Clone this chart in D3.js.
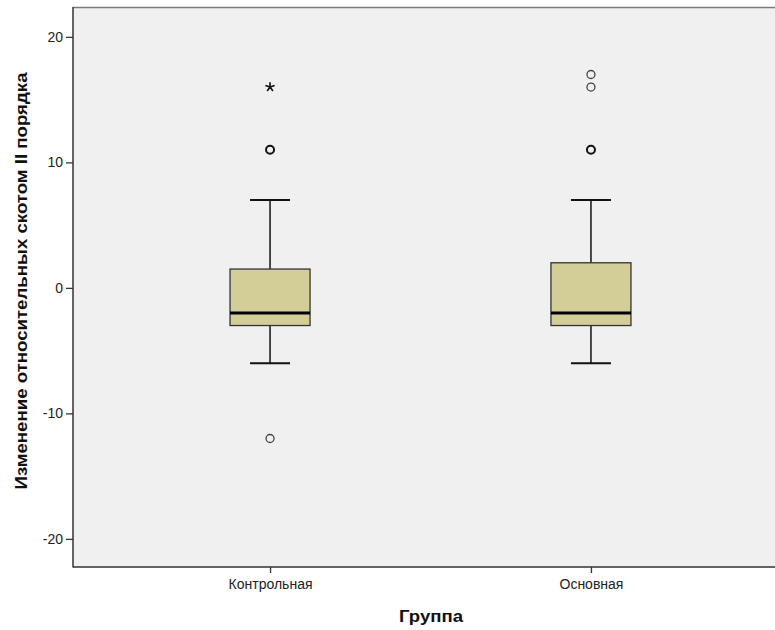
<!DOCTYPE html>
<html>
<head>
<meta charset="utf-8">
<script src="https://cdn.jsdelivr.net/npm/d3@7"></script>
<style>
  body { margin: 0; background: #ffffff; }
  svg { display: block; font-family: "Liberation Sans", Arial, sans-serif; }
</style>
</head>
<body>
<svg id="chart" width="775" height="630"></svg>
<script>
// Groups and their five-number summaries
const groups = ["Контрольная", "Основная"];
const whiskerLow = [-6, -6];
const q1 = [-3, -3];
const median = [-2, -2];
const q3 = [1.5, 2];
const whiskerHigh = [7, 7];
// Outliers: [group index, value, repeated count]
const outliers = [[0, 11, 2], [0, -12, 1], [1, 17, 1], [1, 16, 1], [1, 11, 2]];
// Extreme values (asterisks)
const extremes = [[0, 16]];
const yTicks = [-20, -10, 0, 10, 20];
const yTitle = "Изменение относительных скотом II порядка";
const xTitle = "Группа";

const svg = d3.select("#chart");
const plotLeft = 73, plotTop = 7, plotBottom = 567, plotRight = 788;

const y = d3.scaleLinear().domain([-22.24, 22.38]).range([plotBottom, plotTop]);
const x = d3.scalePoint().domain(groups).range([plotLeft, plotRight]).padding(0.614);

// Plot background
svg.append("rect")
  .attr("x", plotLeft).attr("y", plotTop)
  .attr("width", 775 - plotLeft).attr("height", plotBottom - plotTop)
  .attr("fill", "#f0f0f0");
svg.append("line")
  .attr("x1", plotLeft).attr("x2", 775).attr("y1", plotTop + 0.5).attr("y2", plotTop + 0.5)
  .attr("stroke", "#7a7a7a").attr("stroke-width", 1.5);

// Axes (plain hyphen for negative numbers)
const yAxis = svg.append("g").attr("transform", `translate(${plotLeft},0)`)
  .call(d3.axisLeft(y).tickValues(yTicks).tickFormat(d => String(d)).tickSize(7).tickSizeOuter(0));
const xAxis = svg.append("g").attr("transform", `translate(0,${plotBottom})`)
  .call(d3.axisBottom(x).tickSize(6).tickSizeOuter(0));
[yAxis, xAxis].forEach(ax => {
  ax.select(".domain").remove();
  ax.selectAll(".tick line").attr("stroke", "#333").attr("stroke-width", 1.3);
  ax.selectAll(".tick text").attr("fill", "#222").attr("font-size", 14)
    .attr("font-family", "Liberation Sans, Arial, sans-serif");
});
yAxis.selectAll(".tick text").attr("x", -10);
xAxis.selectAll(".tick text").attr("y", 12);
svg.append("line").attr("x1", plotLeft).attr("x2", plotLeft).attr("y1", plotTop).attr("y2", plotBottom + 0.5)
  .attr("stroke", "#333").attr("stroke-width", 1.5);
svg.append("line").attr("x1", plotLeft).attr("x2", 775).attr("y1", plotBottom).attr("y2", plotBottom)
  .attr("stroke", "#333").attr("stroke-width", 1.5);

// Boxes
const boxW = 80, capW = 40;
const g = svg.append("g");
groups.forEach((name, i) => {
  const cx = x(name);
  g.append("line").attr("x1", cx).attr("x2", cx)
    .attr("y1", y(whiskerHigh[i])).attr("y2", y(q3[i]))
    .attr("stroke", "#111").attr("stroke-width", 1.5);
  g.append("line").attr("x1", cx).attr("x2", cx)
    .attr("y1", y(q1[i])).attr("y2", y(whiskerLow[i]))
    .attr("stroke", "#111").attr("stroke-width", 1.5);
  [whiskerHigh[i], whiskerLow[i]].forEach(v => {
    g.append("line").attr("x1", cx - capW / 2).attr("x2", cx + capW / 2)
      .attr("y1", y(v)).attr("y2", y(v))
      .attr("stroke", "#111").attr("stroke-width", 2);
  });
  g.append("rect")
    .attr("x", cx - boxW / 2).attr("y", y(q3[i]))
    .attr("width", boxW).attr("height", y(q1[i]) - y(q3[i]))
    .attr("fill", "#d3ce98").attr("stroke", "#333").attr("stroke-width", 1.3);
  g.append("line").attr("x1", cx - boxW / 2).attr("x2", cx + boxW / 2)
    .attr("y1", y(median[i])).attr("y2", y(median[i]))
    .attr("stroke", "#000").attr("stroke-width", 3);
});

// Outlier circles
outliers.forEach(([gi, v, n]) => {
  g.append("circle")
    .attr("cx", x(groups[gi])).attr("cy", y(v)).attr("r", 4)
    .attr("fill", "none").attr("stroke", n > 1 ? "#111" : "#444")
    .attr("stroke-width", n > 1 ? 2 : 1.3);
});

// Extreme value asterisks (five-pointed)
const asterisk = {
  draw(ctx, size) {
    const r = Math.sqrt(size) / 1.3;
    for (let k = 0; k < 5; k++) {
      const a = -Math.PI / 2 + k * 2 * Math.PI / 5;
      ctx.moveTo(0, 0);
      ctx.lineTo(r * Math.cos(a), r * Math.sin(a));
    }
  }
};
extremes.forEach(([gi, v]) => {
  g.append("path")
    .attr("d", d3.symbol().type(asterisk).size(40)())
    .attr("transform", `translate(${x(groups[gi])},${y(v)})`)
    .attr("stroke", "#111").attr("stroke-width", 1.6).attr("fill", "none");
});

// Axis titles
svg.append("text")
  .attr("transform", `translate(27,281) rotate(-90)`)
  .attr("text-anchor", "middle")
  .attr("font-size", 17).attr("font-weight", "bold").attr("fill", "#111")
  .attr("textLength", 417).attr("lengthAdjust", "spacingAndGlyphs")
  .text(yTitle);
svg.append("text")
  .attr("x", 431).attr("y", 622)
  .attr("text-anchor", "middle")
  .attr("font-size", 17).attr("font-weight", "bold").attr("fill", "#111")
  .attr("textLength", 64).attr("lengthAdjust", "spacingAndGlyphs")
  .text(xTitle);
</script>
</body>
</html>
